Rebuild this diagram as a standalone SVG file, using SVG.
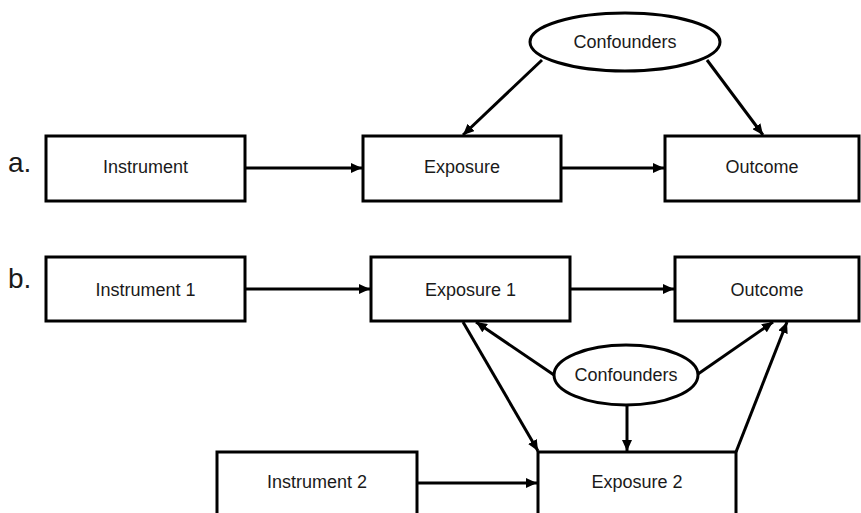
<svg xmlns="http://www.w3.org/2000/svg" width="861" height="513" viewBox="0 0 861 513">
<style>
.box{fill:#fff;stroke:#000;stroke-width:3}
.lbl{font-family:"Liberation Sans",Arial,sans-serif;font-size:18px;fill:#1a1a1a;text-anchor:middle}
.tag{font-family:"Liberation Sans",Arial,sans-serif;font-size:28px;fill:#1a1a1a}
.edge{stroke:#000;stroke-width:3;fill:none;marker-end:url(#arr)}
</style>
<defs>
<marker id="arr" markerUnits="userSpaceOnUse" markerWidth="12" markerHeight="10" refX="11" refY="5" orient="auto">
<path d="M0,0 L11,5 L0,10 Z" fill="#000"/>
</marker>
</defs>
<rect width="861" height="513" fill="#fff"/>
<text class="tag" x="8" y="172">a.</text>
<text class="tag" x="8" y="288">b.</text>
<g id="connectors">
<line class="edge" x1="246" y1="168" x2="362" y2="168"/>
<line class="edge" x1="562" y1="168" x2="664" y2="168"/>
<line class="edge" x1="542" y1="60" x2="463" y2="135"/>
<line class="edge" x1="707" y1="60" x2="763" y2="135"/>
<line class="edge" x1="246" y1="289" x2="370" y2="289"/>
<line class="edge" x1="571" y1="289" x2="674" y2="289"/>
<line class="edge" x1="463" y1="322" x2="538" y2="451"/>
<line class="edge" x1="554" y1="375" x2="476" y2="322"/>
<line class="edge" x1="698" y1="374" x2="773" y2="322"/>
<line class="edge" x1="736" y1="452" x2="787" y2="322"/>
<line class="edge" x1="627" y1="406" x2="627" y2="451"/>
<line class="edge" x1="418" y1="483" x2="537" y2="483"/>
</g>
<g id="instrument-a"><rect class="box" x="46" y="136" width="199" height="65"/><text class="lbl" x="145.5" y="173">Instrument</text></g>
<g id="exposure-a"><rect class="box" x="363" y="136" width="198" height="65"/><text class="lbl" x="462" y="173">Exposure</text></g>
<g id="outcome-a"><rect class="box" x="665" y="136" width="194" height="65"/><text class="lbl" x="762" y="173">Outcome</text></g>
<g id="confounders-a"><ellipse class="box" cx="625" cy="42" rx="95" ry="29"/><text class="lbl" x="625" y="48">Confounders</text></g>
<g id="instrument-1"><rect class="box" x="46" y="257" width="199" height="64"/><text class="lbl" x="145.5" y="296">Instrument 1</text></g>
<g id="exposure-1"><rect class="box" x="371" y="257" width="199" height="64"/><text class="lbl" x="470.5" y="296">Exposure 1</text></g>
<g id="outcome-b"><rect class="box" x="675" y="257" width="184" height="64"/><text class="lbl" x="767" y="296">Outcome</text></g>
<g id="confounders-b"><ellipse class="box" cx="626" cy="375" rx="72" ry="30"/><text class="lbl" x="626" y="381">Confounders</text></g>
<g id="instrument-2"><rect class="box" x="217" y="452" width="200" height="70"/><text class="lbl" x="317" y="488">Instrument 2</text></g>
<g id="exposure-2"><rect class="box" x="538" y="452" width="198" height="70"/><text class="lbl" x="637" y="488">Exposure 2</text></g>
</svg>
